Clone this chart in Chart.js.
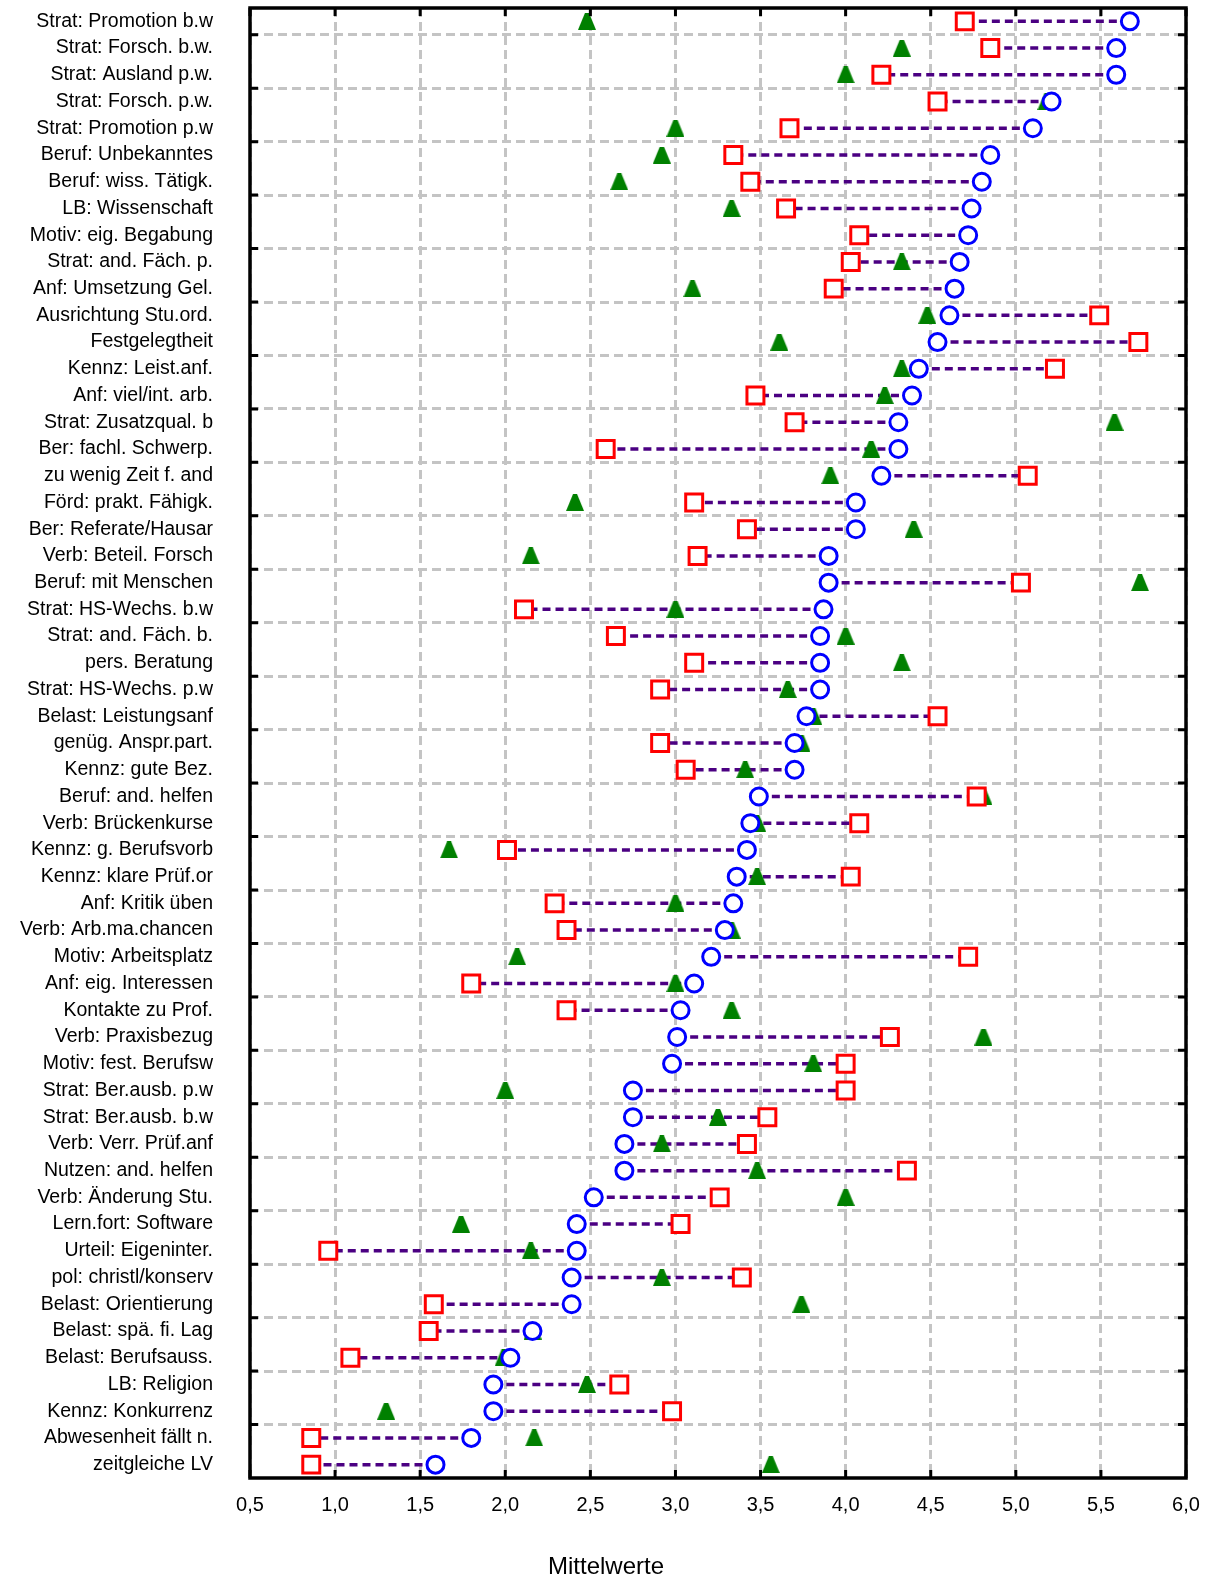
<!DOCTYPE html>
<html>
<head>
<meta charset="utf-8">
<script src="https://cdn.jsdelivr.net/npm/chart.js@4"></script>
<style>
	body { margin: 0; background: #fff; }
	#wadah { width: 1205px; height: 1579px; }
</style>
</head>
<body>
<div id="wadah"><canvas id="grafik"></canvas></div>
<script>
// kategori (top to bottom)
var kategori = [
	'Strat: Promotion b.w', 'Strat: Forsch. b.w.', 'Strat: Ausland p.w.', 'Strat: Forsch. p.w.',
	'Strat: Promotion p.w', 'Beruf: Unbekanntes', 'Beruf: wiss. Tätigk.', 'LB: Wissenschaft',
	'Motiv: eig. Begabung', 'Strat: and. Fäch. p.', 'Anf: Umsetzung Gel.', 'Ausrichtung Stu.ord.',
	'Festgelegtheit', 'Kennz: Leist.anf.', 'Anf: viel/int. arb.', 'Strat: Zusatzqual. b',
	'Ber: fachl. Schwerp.', 'zu wenig Zeit f. and', 'Förd: prakt. Fähigk.', 'Ber: Referate/Hausar',
	'Verb: Beteil. Forsch', 'Beruf: mit Menschen', 'Strat: HS-Wechs. b.w', 'Strat: and. Fäch. b.',
	'pers. Beratung', 'Strat: HS-Wechs. p.w', 'Belast: Leistungsanf', 'genüg. Anspr.part.',
	'Kennz: gute Bez.', 'Beruf: and. helfen', 'Verb: Brückenkurse', 'Kennz: g. Berufsvorb',
	'Kennz: klare Prüf.or', 'Anf: Kritik üben', 'Verb: Arb.ma.chancen', 'Motiv: Arbeitsplatz',
	'Anf: eig. Interessen', 'Kontakte zu Prof.', 'Verb: Praxisbezug', 'Motiv: fest. Berufsw',
	'Strat: Ber.ausb. p.w', 'Strat: Ber.ausb. b.w', 'Verb: Verr. Prüf.anf', 'Nutzen: and. helfen',
	'Verb: Änderung Stu.', 'Lern.fort: Software', 'Urteil: Eigeninter.', 'pol: christl/konserv',
	'Belast: Orientierung', 'Belast: spä. fi. Lag', 'Belast: Berufsauss.', 'LB: Religion',
	'Kennz: Konkurrenz', 'Abwesenheit fällt n.', 'zeitgleiche LV'
];

// blue circles
var nilaiBiru = [5.67, 5.59, 5.59, 5.21, 5.10, 4.85, 4.80, 4.74, 4.72, 4.67,
	4.64, 4.61, 4.54, 4.43, 4.39, 4.31, 4.31, 4.21, 4.06, 4.06,
	3.90, 3.90, 3.87, 3.85, 3.85, 3.85, 3.77, 3.70, 3.70, 3.49,
	3.44, 3.42, 3.36, 3.34, 3.29, 3.21, 3.11, 3.03, 3.01, 2.98,
	2.75, 2.75, 2.70, 2.70, 2.52, 2.42, 2.42, 2.39, 2.39, 2.16,
	2.03, 1.93, 1.93, 1.80, 1.59];

// red squares
var nilaiMerah = [4.70, 4.85, 4.21, 4.54, 3.67, 3.34, 3.44, 3.65, 4.08, 4.03,
	3.93, 5.49, 5.72, 5.23, 3.47, 3.70, 2.59, 5.07, 3.11, 3.42,
	3.13, 5.03, 2.11, 2.65, 3.11, 2.91, 4.54, 2.91, 3.06, 4.77,
	4.08, 2.01, 4.03, 2.29, 2.36, 4.72, 1.80, 2.36, 4.26, 4.00,
	4.00, 3.54, 3.42, 4.36, 3.26, 3.03, 0.96, 3.39, 1.58, 1.55,
	1.09, 2.67, 2.98, 0.86, 0.86];

// green triangles
var nilaiHijau = [2.48, 4.33, 4.00, 5.18, 3.00, 2.92, 2.67, 3.33, 4.08, 4.33,
	3.10, 4.48, 3.61, 4.33, 4.23, 5.58, 4.15, 3.91, 2.41, 4.40,
	2.15, 5.73, 3.00, 4.00, 4.33, 3.66, 3.81, 3.74, 3.41, 4.81,
	3.48, 1.67, 3.48, 3.00, 3.33, 2.07, 3.00, 3.33, 4.81, 3.81,
	2.00, 3.25, 2.92, 3.48, 4.00, 1.74, 2.15, 2.92, 3.74, 2.16,
	1.99, 2.48, 1.30, 2.17, 3.56];

var labelX = ['0,5', '1,0', '1,5', '2,0', '2,5', '3,0', '3,5', '4,0', '4,5', '5,0', '5,5', '6,0'];

function titik(nilai){
	var hasil = [];
	for (var i = 0; i < kategori.length; i++) {
		hasil.push({x: nilai[i], y: kategori[i]});
	}
	return hasil;
}

// blue -> red link, broken by null points
function garis(){
	var hasil = [];
	for (var i = 0; i < kategori.length; i++) {
		hasil.push({x: nilaiBiru[i], y: kategori[i]});
		hasil.push({x: nilaiMerah[i], y: kategori[i]});
		hasil.push({x: null, y: kategori[i]});
	}
	return hasil;
}

// green marker: small canvas used as pointStyle (blunt top like the original)
function segitiga(){
	var c = document.createElement('canvas');
	c.width = 18;
	c.height = 17;
	var g = c.getContext('2d');
	g.fillStyle = '#008000';
	g.beginPath();
	g.moveTo(7, 0);
	g.lineTo(11, 0);
	g.lineTo(18, 17);
	g.lineTo(0, 17);
	g.closePath();
	g.fill();
	return c;
}

// black frame + small inward ticks
var bingkai = {
	id: 'bingkai',
	afterDraw: function(chart){
		var ctx = chart.ctx;
		var a = chart.chartArea;
		var sx = chart.scales.x;
		var sy = chart.scales.y;
		var pjg = 8;
		ctx.save();
		ctx.strokeStyle = '#000';
		ctx.lineWidth = 3;
		ctx.beginPath();
		sx.ticks.forEach(function(t){
			var px = sx.getPixelForValue(t.value);
			ctx.moveTo(px, a.top);
			ctx.lineTo(px, a.top + pjg);
			ctx.moveTo(px, a.bottom);
			ctx.lineTo(px, a.bottom - pjg);
		});
		for (var i = 1; i < kategori.length; i += 2) {
			var py = (sy.getPixelForValue(i - 1) + sy.getPixelForValue(i)) / 2;
			ctx.moveTo(a.left, py);
			ctx.lineTo(a.left + pjg, py);
			ctx.moveTo(a.right, py);
			ctx.lineTo(a.right - pjg, py);
		}
		ctx.stroke();
		ctx.lineWidth = 3.5;
		ctx.strokeRect(a.left, a.top, a.right - a.left, a.bottom - a.top);
		ctx.restore();
	}
};

Chart.defaults.font.family = '"Liberation Sans", Arial, sans-serif';
Chart.defaults.color = '#000';

var ctxGrafik = document.getElementById('grafik');
var grafikTitik = new Chart(ctxGrafik, {
	type: 'scatter',
	data: {
		datasets: [
			{
				label: 'biru',
				data: titik(nilaiBiru),
				pointStyle: 'circle',
				pointRadius: 8.5,
				borderWidth: 3,
				borderColor: '#0000ff',
				backgroundColor: '#ffffff'
			},
			{
				label: 'merah',
				data: titik(nilaiMerah),
				pointStyle: 'rect',
				pointRadius: 12,
				borderWidth: 3,
				borderColor: '#ff0000',
				backgroundColor: '#ffffff'
			},
			{
				label: 'hijau',
				data: titik(nilaiHijau),
				pointStyle: segitiga(),
				pointRadius: 9,
				borderWidth: 0,
				borderColor: '#008000',
				backgroundColor: '#008000'
			},
			{
				label: 'garis',
				data: garis(),
				showLine: true,
				pointRadius: 0,
				borderColor: '#4b0082',
				borderWidth: 3.5,
				borderDash: [8, 5],
				fill: false
			}
		]
	},
	options: {
		responsive: true,
		maintainAspectRatio: false,
		animation: false,
		events: [],
		layout: {
			autoPadding: false,
			padding: {left: 6, right: 19, top: 8, bottom: 0}
		},
		plugins: {
			legend: { display: false },
			tooltip: { enabled: false },
			title: {
				display: true,
				text: '   Mittelwerte',
				position: 'bottom',
				font: { size: 24, weight: 'normal', lineHeight: 1 },
				color: '#000',
				padding: { top: 15, bottom: 0 }
			}
		},
		scales: {
			x: {
				type: 'linear',
				min: 0.5,
				max: 6,
				afterFit: function(s){
					s.height = 62;
					s.paddingLeft = 0;
					s.paddingRight = 0;
				},
				border: { display: false, dash: [9, 5] },
				grid: {
					color: '#c4c4c4',
					lineWidth: 3,
					drawTicks: false
				},
				ticks: {
					stepSize: 0.5,
					padding: 15,
					maxRotation: 0,
					font: { size: 20 },
					callback: function(v, i){ return labelX[i]; }
				}
			},
			y: {
				type: 'category',
				labels: kategori,
				offset: true,
				afterFit: function(s){
					s.width = 244;
					s.paddingTop = 0;
					s.paddingBottom = 0;
				},
				border: { display: false, dash: [9, 5] },
				grid: {
					offset: true,
					drawTicks: true,
					tickLength: 35,
					tickColor: 'rgba(0,0,0,0)',
					lineWidth: 3,
					color: function(c){
						return (c.index % 2 === 1 && c.index < kategori.length) ? '#c4c4c4' : 'rgba(0,0,0,0)';
					}
				},
				ticks: {
					autoSkip: false,
					padding: 2,
					font: { size: 19.5 }
				}
			}
		}
	},
	plugins: [bingkai]
});
</script>
</body>
</html>
